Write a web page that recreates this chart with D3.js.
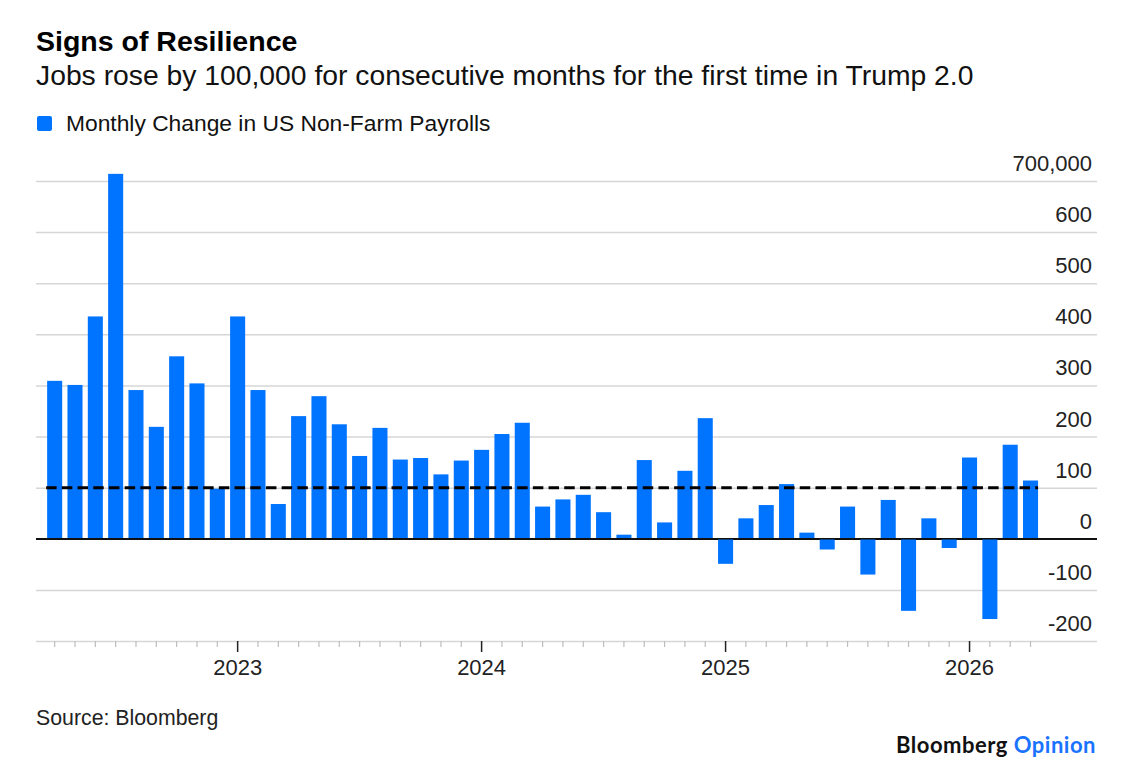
<!DOCTYPE html>
<html>
<head>
<meta charset="utf-8">
<script src="https://cdn.jsdelivr.net/npm/d3@7"></script>
<style>
	html, body { margin: 0; padding: 0; background: #fff; }
	svg { display: block; font-family: "Liberation Sans", Arial, sans-serif; }
</style>
</head>
<body>
<svg id="chart" width="1136" height="782"></svg>
<script>
// Monate: Apr 2022 bis Apr 2026
var months = [
	'2022-04', '2022-05', '2022-06', '2022-07', '2022-08', '2022-09', '2022-10', '2022-11', '2022-12',
	'2023-01', '2023-02', '2023-03', '2023-04', '2023-05', '2023-06', '2023-07', '2023-08', '2023-09', '2023-10', '2023-11', '2023-12',
	'2024-01', '2024-02', '2024-03', '2024-04', '2024-05', '2024-06', '2024-07', '2024-08', '2024-09', '2024-10', '2024-11', '2024-12',
	'2025-01', '2025-02', '2025-03', '2025-04', '2025-05', '2025-06', '2025-07', '2025-08', '2025-09', '2025-10', '2025-11', '2025-12',
	'2026-01', '2026-02', '2026-03', '2026-04'
];
// Monthly change in US non-farm payrolls (thousands)
var payrolls = [
	309, 301, 435, 714, 291, 219, 357, 304, 98,
	435, 291, 68, 240, 279, 224, 162, 217, 155, 158, 126, 153,
	174, 205, 227, 63, 77, 86, 52, 8, 154, 32, 133, 236,
	-49, 40, 66, 107, 12, -21, 63, -70, 76, -141, 40, -18,
	159, -157, 184, 114
];
var yTicks = [-200000, -100000, 0, 100000, 200000, 300000, 400000, 500000, 600000, 700000];
var threshold = 100000;

var title = 'Signs of Resilience';
var subtitle = 'Jobs rose by 100,000 for consecutive months for the first time in Trump 2.0';
var legendLabel = 'Monthly Change in US Non-Farm Payrolls';
var source = 'Source: Bloomberg';

var svg = d3.select('#chart');
var left = 36, right = 1097;

var x = d3.scaleBand()
	.domain(months)
	.range([44.5, 1040.7])
	.paddingInner(0.26)
	.paddingOuter(0.13);

var y = d3.scaleLinear()
	.domain([-200000, 700000])
	.range([641, 181]);

// Kopfzeilen
svg.append('text').attr('x', 36).attr('y', 51)
	.attr('font-size', 28.5).attr('font-weight', 700).attr('fill', '#000')
	.text(title);
svg.append('text').attr('x', 36).attr('y', 85)
	.attr('font-size', 28.3).attr('fill', '#111')
	.text(subtitle);

// Legende
svg.append('rect').attr('x', 37).attr('y', 116).attr('width', 15).attr('height', 15).attr('rx', 2)
	.attr('fill', '#0073ff');
svg.append('text').attr('x', 66).attr('y', 131)
	.attr('font-size', 22.8).attr('fill', '#111')
	.text(legendLabel);

// y-Achse mit Gitterlinien
var yAxis = svg.append('g')
	.attr('transform', 'translate(' + left + ',0)')
	.call(d3.axisRight(y)
		.tickValues(yTicks)
		.tickSize(right - left)
		.tickFormat(function (d) { return d === 700000 ? d3.format(',')(d) : String(d / 1000); }));
yAxis.select('.domain').remove();
yAxis.selectAll('.tick line')
	.attr('stroke', function (d) { return d === 0 ? '#111' : '#d6d6d6'; })
	.attr('stroke-width', 1.5);
yAxis.selectAll('.tick text')
	.attr('x', right - left - 5)
	.attr('dy', -10.5)
	.attr('text-anchor', 'end')
	.attr('font-size', 22)
	.attr('fill', '#222');

// Balken
svg.append('g').selectAll('rect')
	.data(payrolls)
	.join('rect')
	.attr('x', function (d, i) { return x(months[i]); })
	.attr('width', x.bandwidth())
	.attr('y', function (d) { return y(Math.max(0, d * 1000)); })
	.attr('height', function (d) { return Math.abs(y(d * 1000) - y(0)); })
	.attr('fill', '#0073ff');

// Nulllinie über die Balken
svg.append('line')
	.attr('x1', left).attr('x2', right)
	.attr('y1', y(0)).attr('y2', y(0))
	.attr('stroke', '#111').attr('stroke-width', 1.5);

// 100.000-Linie
svg.append('line')
	.attr('x1', x(months[0]) - 1).attr('x2', x(months[months.length - 1]) + x.bandwidth())
	.attr('y1', y(threshold)).attr('y2', y(threshold))
	.attr('stroke', '#000').attr('stroke-width', 3)
	.attr('stroke-dasharray', '10.5,5.2');

// x-Achse
var xAxis = svg.append('g')
	.attr('transform', 'translate(0,' + y(-200000) + ')')
	.call(d3.axisBottom(x)
		.tickSizeOuter(0)
		.tickSize(6)
		.tickFormat(function (d) { return d.slice(5) === '01' ? d.slice(0, 4) : ''; }));
xAxis.select('.domain').remove();
xAxis.selectAll('.tick line')
	.attr('stroke', function (d) { return d.slice(5) === '01' ? '#222' : '#bdbdbd'; })
	.attr('stroke-width', function (d) { return d.slice(5) === '01' ? 1.5 : 1.2; })
	.attr('y2', function (d) { return d.slice(5) === '01' ? 11 : 6; });
xAxis.selectAll('.tick text')
	.attr('y', 34).attr('dy', 0)
	.attr('font-size', 22)
	.attr('fill', '#222');

// Quelle und Logo
svg.append('text').attr('x', 36).attr('y', 725)
	.attr('font-size', 21.3).attr('fill', '#222')
	.text(source);
var logo = svg.append('text').attr('x', 1096).attr('y', 753)
	.attr('text-anchor', 'end')
	.attr('font-family', 'Lato, "Noto Sans", sans-serif')
	.attr('font-size', 22).attr('font-weight', 700)
	.attr('letter-spacing', 0.5);
logo.append('tspan').attr('fill', '#111').text('Bloomberg ');
logo.append('tspan').attr('fill', '#1a73ff').text('Opinion');
</script>
</body>
</html>
